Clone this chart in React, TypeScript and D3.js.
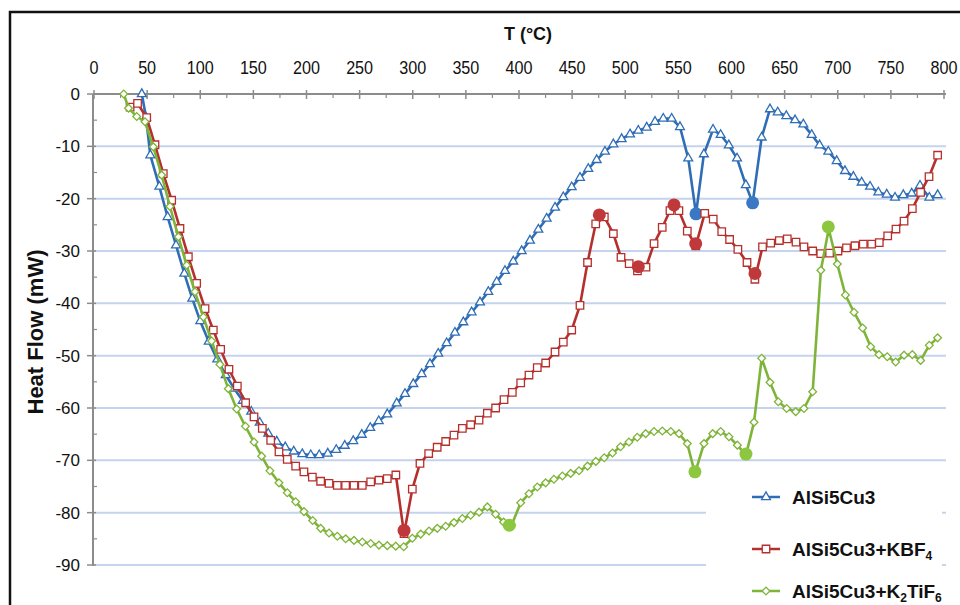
import React from 'react';
import * as d3 from 'd3';

// tick values
const xTicks = [0, 50, 100, 150, 200, 250, 300, 350, 400, 450, 500, 550, 600, 650, 700, 750, 800];
const yTicks = [0, -10, -20, -30, -40, -50, -60, -70, -80, -90];

// [T (°C), heat flow (mW)]
const alsi: [number, number][] = [
  [45, 0], [49, -4.5], [53, -11.7], [61.5, -17.7], [69.3, -23.5], [77.2, -28.9], [85, -34.3], [92.5, -39.1],
  [100, -43.4], [108, -47.3], [116, -50.7], [124, -53.7], [132, -56.3], [140, -58.6], [148, -60.7], [156, -62.8],
  [164, -64.9], [172, -66.4], [180, -67.5], [188, -68.3], [196, -68.8], [204, -69], [212, -69], [220, -68.7],
  [228, -68], [236, -67.2], [244, -66.3], [252, -65.1], [260, -63.8], [268, -62.5], [276, -61.2], [284.9, -59.1],
  [292.7, -57.3], [300.5, -55.4], [308.4, -53.5], [316.2, -51.6], [324, -49.6], [331.9, -47.6], [339.7, -45.6],
  [347.6, -43.6], [355.4, -41.7], [363.3, -39.8], [371.1, -37.8], [379, -35.9], [386.8, -33.8], [394.6, -32],
  [402.5, -30], [410.3, -28], [418.2, -25.9], [426, -23.8], [433.9, -21.7], [441.7, -19.7], [449.6, -17.8],
  [457.4, -16], [465.2, -14.3], [473.1, -12.6], [480.9, -11], [488.8, -9.6], [496.6, -8.6], [504.5, -7.7],
  [512.3, -7], [520.2, -6.4], [528, -5.3], [535.8, -4.7], [543.7, -4.7], [551.5, -6.3], [559.3, -12.3],
  [566.6, -22.9], [574, -11.5], [582.6, -6.8], [589.8, -7.8], [597.5, -9.8], [605.2, -12.3], [613.5, -17.4],
  [619.9, -20.8], [628.4, -8.3], [636.2, -2.9], [643.5, -3.5], [651.6, -4.2], [659.8, -5], [667.6, -5.8],
  [675.5, -7.8], [682.9, -9.8], [691.1, -11], [699, -12.8], [706.8, -14.7], [714.7, -15.8], [722.5, -16.9],
  [730.4, -17.7], [738.2, -18.8], [746.1, -19.2], [753.9, -19.8], [761.7, -19.3], [769.6, -19], [777.4, -17.5],
  [786.2, -19.8], [794, -19.3],
];

const alsiKbf: [number, number][] = [
  [34, -2.5], [41, -1.8], [49.6, -4.5], [57.4, -9.7], [65.2, -15.2], [73.1, -20.3], [80.9, -25.7], [88.8, -31.1],
  [96.6, -36.2], [104.5, -41], [112.3, -45.1], [119.2, -48.8], [127, -52.6], [134.9, -55.8], [142.7, -59],
  [150.6, -61.7], [158.4, -63.9], [166.3, -66.2], [174.1, -68.4], [181.9, -69.8], [189.8, -71.1], [197.6, -72.2],
  [205.5, -73.2], [213.3, -74], [221.2, -74.4], [229, -74.8], [236.8, -74.8], [244.7, -74.8], [252.5, -74.8],
  [260.4, -74.1], [268.2, -73.8], [276, -73.5], [284.1, -72.8], [291.8, -84], [299.6, -75.5], [306.8, -70.6],
  [315, -68.7], [323, -67.5], [331, -66.4], [338.8, -65.2], [346.7, -63.9], [354.5, -63.2], [362.4, -62.3],
  [370.2, -61], [378, -60], [385.9, -58.4], [393.7, -57], [401.6, -55.2], [409.4, -53.7], [417.2, -52.3],
  [425.1, -51.4], [433.9, -49.3], [441.7, -47.4], [449.6, -45.1], [457.4, -40.4], [464.5, -32.2], [472.2, -24.8],
  [480.3, -23.5], [488.8, -26.7], [496, -31.2], [503.7, -32.4], [511.5, -33.8], [519.5, -33.1], [527.1, -28.6],
  [534.8, -25.5], [542.1, -22.3], [550.5, -22.3], [558.4, -26.2], [566.4, -29], [574.8, -22.8], [582.8, -23.9],
  [590.8, -26.3], [598.2, -27.8], [606, -29.7], [614.6, -32.2], [622, -35.4], [629.2, -29.2], [636.9, -28.5],
  [645, -28], [652.5, -27.7], [660.7, -28.3], [668.2, -29.2], [676.4, -30], [684, -30.5], [692.3, -30.4],
  [700.2, -30], [708.2, -29.4], [716.2, -29], [724, -28.7], [731.9, -28.7], [739.1, -28.4], [747, -27.1],
  [754.8, -25.8], [762.4, -24.3], [770.2, -21.9], [778, -18.8], [785.9, -15.8], [794, -11.7],
];

const alsiK2: [number, number][] = [
  [28, 0], [32.5, -2.7], [40.2, -4.3], [48, -5.3], [55.8, -10.1], [63.7, -15.5], [71.5, -21.5], [79.4, -27.3],
  [87.2, -32.7], [95, -37.8], [102.9, -42.6], [110.7, -47.2], [118.5, -51.7], [126.4, -56.3], [134.3, -60.2],
  [142.5, -63.5], [150.6, -66.5], [157.8, -69.2], [165.6, -72], [174.1, -74.3], [181.9, -76.2], [189.8, -77.9],
  [197.6, -79.8], [205.8, -81.5], [213.3, -83], [221.2, -83.9], [229, -84.5], [236.9, -85], [244.7, -85.3],
  [252.5, -85.6], [260.4, -85.9], [268.2, -86.2], [276, -86.3], [284, -86.4], [291.5, -86.5], [299.6, -84.9],
  [307.5, -84.1], [315.3, -83.5], [323.1, -83], [331, -82.6], [338.8, -81.9], [346.7, -81.1], [354.5, -80.5],
  [362.4, -79.9], [370.2, -78.9], [378, -80.3], [385.5, -81.8], [393, -82.4], [401.6, -78.1], [409.4, -76.4],
  [417.2, -75.1], [425.1, -74.3], [432.9, -73.6], [440.8, -73], [448.6, -72.5], [456.5, -72], [464.5, -71.1],
  [472.3, -70.2], [480.2, -69.5], [488, -68.6], [495.5, -67.4], [503.5, -66.5], [511.3, -65.6], [519.2, -64.9],
  [527.1, -64.5], [534.9, -64.4], [542.8, -64.5], [550.6, -64.9], [558.4, -66.8], [565.6, -72.5], [574.1, -66.8],
  [582.3, -64.9], [589.8, -64.5], [597.6, -65.5], [605.5, -67.1], [613.6, -69], [621.2, -62.7], [628.4, -50.5],
  [636.2, -55.1], [644, -58.8], [651.9, -60.1], [660.4, -60.7], [668.2, -60.1], [676.4, -56.9], [684.1, -33.7],
  [691.5, -25.8], [699.6, -32.5], [707.2, -38.4], [715.3, -41.7], [723.4, -44.7], [731, -48.3], [738.8, -49.8],
  [746.6, -50.2], [754.5, -51.2], [762.4, -49.9], [770.2, -49.8], [778, -50.9], [786.2, -48], [794, -46.6],
];

// filled circles marking the peaks
const alsiPeaks: [number, number][] = [[566.6, -22.9], [619.9, -20.8]];
const alsiKbfPeaks: [number, number][] = [[291.8, -83.4], [475.6, -23.1], [512.3, -33], [545.9, -21.2], [566.3, -28.6], [622.1, -34.3]];
const alsiK2Peaks: [number, number][] = [[390.9, -82.4], [565.6, -72.2], [613.6, -68.8], [691.1, -25.4]];

const font = '"Liberation Sans", Arial, sans-serif';

const x = d3.scaleLinear().domain([0, 800]).range([94, 944]);
const y = d3.scaleLinear().domain([0, -90]).range([94, 565]);

const line = d3.line<[number, number]>().x(d => x(d[0])).y(d => y(d[1]));

const series = [
  { key: 'base', data: alsi, peaks: alsiPeaks, color: '#2f6db5', peakColor: '#3b78c4', marker: d3.symbol(d3.symbolTriangle, 34)() as string, rot: 0 },
  { key: 'kbf', data: alsiKbf, peaks: alsiKbfPeaks, color: '#b5302c', peakColor: '#c0393a', marker: d3.symbol(d3.symbolSquare, 56)() as string, rot: 0 },
  { key: 'k2', data: alsiK2, peaks: alsiK2Peaks, color: '#7fb43a', peakColor: '#8dc63f', marker: d3.symbol(d3.symbolSquare, 30)() as string, rot: 45 },
];

function Legend() {
  const rows = [
    { s: series[0], y: 497, label: <tspan>AlSi5Cu3</tspan> },
    { s: series[1], y: 549, label: <><tspan>AlSi5Cu3+KBF</tspan><tspan fontSize={12} dy={4}>4</tspan></> },
    { s: series[2], y: 591, label: <><tspan>AlSi5Cu3+K</tspan><tspan fontSize={12} dy={4}>2</tspan><tspan dy={-4}>TiF</tspan><tspan fontSize={12} dy={4}>6</tspan></> },
  ];
  return (
    <g>
      <rect x={706} y={474} width={236} height={140} fill="#fff" />
      {rows.map(r => (
        <g key={r.s.key}>
          <line x1={752} x2={780} y1={r.y} y2={r.y} stroke={r.s.color} strokeWidth={2.5} />
          <path d={r.s.marker} transform={`translate(766,${r.y}) rotate(${r.s.rot})`} fill="#fff" stroke={r.s.color} strokeWidth={1.3} />
          <text x={792} y={r.y + 7} fontFamily={font} fontWeight="bold" fontSize={19} fill="#111">{r.label}</text>
        </g>
      ))}
    </g>
  );
}

export default function App() {
  const minorX = xTicks.slice(0, -1).map(t => t + 25);
  const minorY = yTicks.slice(0, -1).map(t => t - 5);
  return (
    <svg width={960} height={605} style={{ position: 'fixed', left: 0, top: 0, background: '#fff' }}>
      <rect x={0} y={0} width={960} height={605} fill="#fff" />
      <rect x={10} y={12} width={1000} height={700} fill="none" stroke="#111" strokeWidth={2.5} />

      {/* gridlines */}
      {yTicks.slice(1).map(t => (
        <line key={t} x1={94} x2={946} y1={y(t)} y2={y(t)} stroke="#c6d3ec" strokeWidth={2} />
      ))}

      {/* y axis */}
      <line x1={93} x2={93} y1={94} y2={566} stroke="#8c8c8c" strokeWidth={2} />
      {yTicks.map(t => (
        <g key={t}>
          <line x1={87} x2={96} y1={y(t)} y2={y(t)} stroke="#8c8c8c" strokeWidth={1.5} />
          <text x={80} y={y(t) + 6} textAnchor="end" fontFamily={font} fontSize={17} fill="#111">{t}</text>
        </g>
      ))}
      {minorY.map(t => (
        <line key={t} x1={93} x2={97} y1={y(t)} y2={y(t)} stroke="#8c8c8c" strokeWidth={1.2} />
      ))}

      {/* x axis on top */}
      <line x1={93} x2={946} y1={94} y2={94} stroke="#8c8c8c" strokeWidth={2} />
      {xTicks.map(t => (
        <g key={t}>
          <line x1={x(t)} x2={x(t)} y1={90} y2={99} stroke="#8c8c8c" strokeWidth={1.5} />
          <text x={x(t)} y={74} textAnchor="middle" fontFamily={font} fontSize={18} fill="#111"
            textLength={String(t).length * 9} lengthAdjust="spacingAndGlyphs">{t}</text>
        </g>
      ))}
      {minorX.map(t => (
        <line key={t} x1={x(t)} x2={x(t)} y1={94} y2={98} stroke="#8c8c8c" strokeWidth={1.2} />
      ))}

      <text x={528} y={40} textAnchor="middle" fontFamily={font} fontWeight="bold" fontSize={18} fill="#111">T (°C)</text>
      <text transform="translate(43,332) rotate(-90)" textAnchor="middle" fontFamily={font} fontWeight="bold" fontSize={22} fill="#111">Heat Flow (mW)</text>

      {/* series */}
      {series.map(s => (
        <g key={s.key}>
          <path d={line(s.data) as string} fill="none" stroke={s.color} strokeWidth={2.6} strokeLinejoin="round" />
          {s.data.map((d, i) => (
            <path key={i} d={s.marker} transform={`translate(${x(d[0])},${y(d[1])}) rotate(${s.rot})`}
              fill="#fff" stroke={s.color} strokeWidth={1.3} />
          ))}
          {s.peaks.map((d, i) => (
            <circle key={'p' + i} cx={x(d[0])} cy={y(d[1])} r={6.5} fill={s.peakColor} />
          ))}
        </g>
      ))}

      <Legend />
    </svg>
  );
}
